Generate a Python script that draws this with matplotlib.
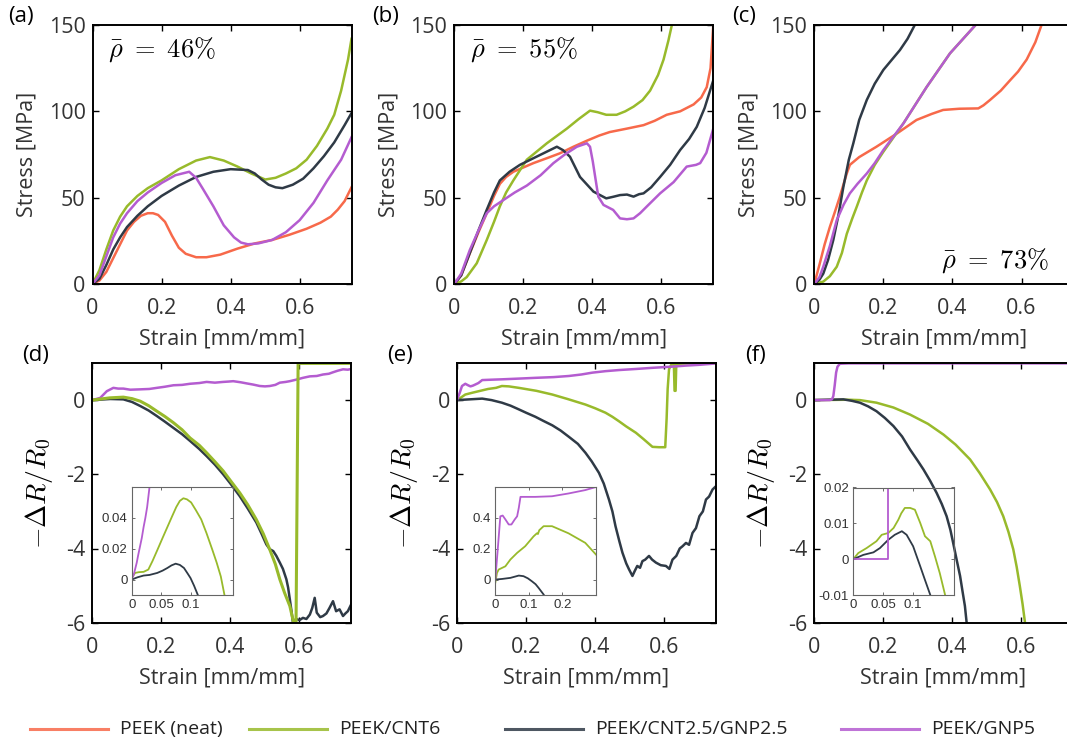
import matplotlib
matplotlib.use('Agg')
import matplotlib.pyplot as plt
from matplotlib.lines import Line2D

plt.rcParams['font.family'] = ['Open Sans', 'DejaVu Sans']
plt.rcParams['mathtext.fontset'] = 'cm'
plt.rcParams['axes.unicode_minus'] = False

# colours: PEEK (neat), PEEK/CNT6, PEEK/CNT2.5/GNP2.5, PEEK/GNP5
C_NEAT = '#F7694A'
C_CNT = '#98BA2B'
C_HYB = '#2F3A46'
C_GNP = '#B45CD0'

labels = ['PEEK (neat)', 'PEEK/CNT6', 'PEEK/CNT2.5/GNP2.5', 'PEEK/GNP5']
densities = ['46%', '55%', '73%']

# ---------------- stress-strain, rho = 46% (a)
a_neat_x = [0, 0.02, 0.04, 0.06, 0.08, 0.10, 0.12, 0.14, 0.16, 0.175, 0.19, 0.21, 0.23, 0.25, 0.27, 0.30, 0.33, 0.37, 0.42, 0.47, 0.52, 0.57, 0.62, 0.66, 0.69, 0.71, 0.73, 0.75]
a_neat_y = [0, 2, 7, 15, 23, 31, 36, 39.5, 41, 41, 40, 36, 28, 21, 17.5, 15.5, 15.5, 17, 20.5, 23.5, 25.5, 28.5, 32, 35.5, 39, 43, 48, 56]
a_cnt_x = [0, 0.02, 0.04, 0.06, 0.08, 0.10, 0.13, 0.16, 0.20, 0.25, 0.30, 0.34, 0.38, 0.42, 0.46, 0.50, 0.53, 0.56, 0.59, 0.62, 0.65, 0.68, 0.70, 0.72, 0.74, 0.75]
a_cnt_y = [0, 8, 20, 31, 39, 45, 51, 55.5, 60, 66.5, 71.5, 73.5, 71.5, 68, 64, 60.5, 61.5, 64, 67, 72, 80, 90, 98, 112, 130, 142]
a_hyb_x = [0, 0.02, 0.04, 0.06, 0.08, 0.10, 0.13, 0.16, 0.20, 0.25, 0.30, 0.35, 0.40, 0.45, 0.47, 0.49, 0.51, 0.53, 0.55, 0.58, 0.61, 0.64, 0.67, 0.70, 0.73, 0.75]
a_hyb_y = [0, 3, 11, 20, 27, 33, 39.5, 45, 51, 57, 62, 65, 66.5, 66, 64, 60.5, 57.5, 56, 55.5, 57.5, 61, 67, 74, 82, 92, 99]
a_gnp_x = [0, 0.02, 0.04, 0.06, 0.08, 0.10, 0.13, 0.16, 0.20, 0.24, 0.28, 0.30, 0.32, 0.35, 0.38, 0.41, 0.43, 0.45, 0.48, 0.52, 0.56, 0.60, 0.64, 0.68, 0.72, 0.75]
a_gnp_y = [0, 5, 16, 27, 35, 41, 48, 53, 58.5, 63, 65, 61.5, 55, 45, 34, 27, 24, 23, 23.5, 25.5, 30, 37, 47, 60, 72, 85]

# ---------------- stress-strain, rho = 55% (b)
b_neat_x = [0, 0.02, 0.045, 0.07, 0.094, 0.115, 0.132, 0.15, 0.171, 0.20, 0.229, 0.27, 0.306, 0.345, 0.384, 0.42, 0.45, 0.50, 0.548, 0.58, 0.615, 0.654, 0.693, 0.715, 0.731, 0.742, 0.75]
b_neat_y = [0, 5, 17.8, 30, 41, 51, 58, 62, 65, 67.5, 70, 73, 75.7, 79.5, 83, 86, 88, 90, 92, 94.5, 98, 100, 104, 108, 114, 125, 150]
b_cnt_x = [0, 0.02, 0.036, 0.065, 0.094, 0.115, 0.132, 0.15, 0.171, 0.21, 0.268, 0.326, 0.36, 0.393, 0.415, 0.44, 0.47, 0.495, 0.519, 0.545, 0.567, 0.59, 0.606, 0.62, 0.63]
b_cnt_y = [0, 1.5, 4, 12, 25.5, 36, 45, 53, 60, 72, 81.5, 90, 95.5, 100.4, 99.5, 98, 98, 100, 102.7, 106.5, 112, 121, 130, 141, 150]
b_hyb_x = [0, 0.02, 0.045, 0.07, 0.094, 0.115, 0.132, 0.16, 0.19, 0.248, 0.297, 0.315, 0.335, 0.364, 0.403, 0.44, 0.46, 0.48, 0.50, 0.519, 0.535, 0.548, 0.57, 0.596, 0.625, 0.654, 0.68, 0.702, 0.725, 0.75]
b_hyb_y = [0, 5, 18, 31, 43, 53, 60, 65, 69, 74.7, 79.5, 77.5, 73.7, 62, 53.5, 49.6, 50.5, 51.5, 51.8, 50.6, 52, 52.5, 56, 62, 69, 77.6, 84, 91, 102, 118]
b_gnp_x = [0, 0.02, 0.045, 0.07, 0.094, 0.115, 0.142, 0.175, 0.21, 0.25, 0.287, 0.32, 0.355, 0.384, 0.393, 0.401, 0.408, 0.417, 0.432, 0.46, 0.48, 0.50, 0.519, 0.538, 0.557, 0.596, 0.635, 0.673, 0.70, 0.712, 0.73, 0.75]
b_gnp_y = [0, 6, 19.7, 31, 41, 45, 48.6, 53, 57, 63, 70, 75, 79.5, 81.5, 79.5, 71, 62, 50.6, 45.8, 42.9, 38, 37.5, 38, 41, 44.8, 52.5, 59, 68, 69, 70, 76, 90]

# ---------------- stress-strain, rho = 73% (c)
c_neat_x = [0, 0.016, 0.03, 0.045, 0.06, 0.074, 0.085, 0.094, 0.103, 0.13, 0.18, 0.238, 0.296, 0.34, 0.373, 0.42, 0.475, 0.49, 0.509, 0.54, 0.567, 0.59, 0.615, 0.64, 0.658]
c_neat_y = [0, 12, 23, 33, 42, 50.6, 58, 64, 69, 73.5, 79.5, 87, 95, 98.5, 100.8, 101.5, 101.7, 103.5, 106.6, 112, 118, 123, 130, 140, 150]
c_cnt_x = [0, 0.026, 0.045, 0.065, 0.08, 0.094, 0.11, 0.123, 0.138, 0.152, 0.175, 0.2, 0.258, 0.325, 0.393, 0.467]
c_cnt_y = [0, 1.4, 4.5, 10, 18, 29, 38, 44.8, 53, 60, 69, 76.6, 93, 114, 133.6, 150]
c_hyb_x = [0, 0.015, 0.026, 0.04, 0.055, 0.07, 0.084, 0.1, 0.113, 0.13, 0.152, 0.175, 0.2, 0.225, 0.248, 0.27, 0.291]
c_hyb_y = [0, 2.5, 6, 14, 25.5, 40, 56, 72, 81.5, 95, 106.6, 116, 124, 130, 135.5, 142, 150]
c_gnp_x = [0, 0.015, 0.026, 0.045, 0.065, 0.085, 0.103, 0.125, 0.152, 0.175, 0.2, 0.258, 0.325, 0.393, 0.467]
c_gnp_y = [0, 4, 10, 22, 37, 46, 52.5, 58, 64, 70, 77.6, 93, 114, 133.6, 150]

# ---------------- piezoresistance, rho = 46% (d)
d_cnt_x = [0, 0.05, 0.09, 0.115, 0.139, 0.163, 0.187, 0.21, 0.235, 0.26, 0.283, 0.31, 0.331, 0.355, 0.379, 0.40, 0.427, 0.45, 0.475, 0.495, 0.514, 0.53, 0.543, 0.557, 0.572, 0.583, 0.59, 0.596, 0.62, 0.66, 0.70, 0.75]
d_cnt_y = [0, 0.06, 0.08, 0.04, -0.03, -0.15, -0.3, -0.44, -0.61, -0.8, -1.02, -1.22, -1.42, -1.66, -1.91, -2.17, -2.5, -2.82, -3.22, -3.6, -4.03, -4.42, -4.83, -5.2, -5.55, -6.0, -6.0, 0.99, 0.99, 0.99, 0.99, 0.99]
d_hyb_x = [0, 0.052, 0.09, 0.115, 0.139, 0.163, 0.187, 0.21, 0.235, 0.26, 0.283, 0.31, 0.331, 0.355, 0.379, 0.40, 0.427, 0.45, 0.475, 0.49, 0.504, 0.514, 0.524, 0.533, 0.543, 0.552, 0.562, 0.567, 0.572, 0.577, 0.581, 0.59, 0.60, 0.61, 0.62, 0.63, 0.637, 0.644, 0.65, 0.66, 0.668, 0.678, 0.687, 0.697, 0.706, 0.716, 0.726, 0.733, 0.74, 0.75]
d_hyb_y = [0, 0.03, 0.02, -0.05, -0.16, -0.28, -0.43, -0.58, -0.75, -0.92, -1.1, -1.32, -1.51, -1.74, -2.0, -2.25, -2.59, -2.92, -3.3, -3.6, -3.89, -4.02, -4.07, -4.2, -4.38, -4.55, -4.83, -5.05, -5.37, -5.7, -6.0, -5.9, -5.93, -5.87, -5.9, -5.78, -5.6, -5.33, -5.73, -5.85, -5.82, -5.75, -5.6, -5.42, -5.69, -5.64, -5.82, -5.75, -5.69, -5.5]
d_gnp_x = [0, 0.023, 0.042, 0.061, 0.075, 0.09, 0.11, 0.139, 0.165, 0.187, 0.21, 0.235, 0.26, 0.283, 0.31, 0.331, 0.355, 0.379, 0.395, 0.408, 0.43, 0.447, 0.465, 0.485, 0.50, 0.514, 0.53, 0.543, 0.56, 0.572, 0.59, 0.61, 0.63, 0.65, 0.668, 0.685, 0.697, 0.71, 0.726, 0.74, 0.75]
d_gnp_y = [0, 0.06, 0.24, 0.33, 0.31, 0.31, 0.28, 0.29, 0.3, 0.33, 0.36, 0.4, 0.41, 0.44, 0.46, 0.49, 0.47, 0.49, 0.5, 0.51, 0.48, 0.45, 0.42, 0.38, 0.37, 0.38, 0.41, 0.47, 0.49, 0.51, 0.55, 0.6, 0.64, 0.65, 0.69, 0.71, 0.75, 0.79, 0.83, 0.82, 0.84]

# ---------------- piezoresistance, rho = 55% (e)
e_cnt_x = [0, 0.01, 0.024, 0.045, 0.063, 0.09, 0.113, 0.13, 0.15, 0.179, 0.23, 0.276, 0.32, 0.372, 0.40, 0.43, 0.45, 0.469, 0.49, 0.518, 0.54, 0.566, 0.585, 0.603, 0.607, 0.61, 0.614, 0.62, 0.624, 0.628, 0.630, 0.633, 0.635, 0.638, 0.645, 0.68, 0.72, 0.75]
e_cnt_y = [0, 0.06, 0.15, 0.2, 0.24, 0.3, 0.33, 0.38, 0.37, 0.33, 0.25, 0.15, 0.03, -0.12, -0.22, -0.34, -0.45, -0.57, -0.71, -0.88, -1.05, -1.26, -1.27, -1.27, -0.5, 0.3, 0.83, 0.95, 0.97, 0.97, 0.25, 0.25, 0.97, 0.98, 0.98, 0.99, 0.99, 0.99]
e_hyb_x = [0, 0.073, 0.10, 0.13, 0.155, 0.179, 0.2, 0.227, 0.25, 0.276, 0.30, 0.324, 0.35, 0.372, 0.39, 0.411, 0.425, 0.44, 0.45, 0.459, 0.47, 0.479, 0.49, 0.498, 0.508, 0.515, 0.522, 0.53, 0.537, 0.545, 0.556, 0.565, 0.576, 0.59, 0.605, 0.615, 0.624, 0.635, 0.645, 0.653, 0.663, 0.672, 0.682, 0.692, 0.702, 0.712, 0.721, 0.73, 0.74, 0.75]
e_hyb_y = [0, 0.04, 0.0, -0.07, -0.15, -0.25, -0.34, -0.45, -0.56, -0.68, -0.82, -0.99, -1.18, -1.42, -1.65, -1.96, -2.25, -2.68, -3.0, -3.4, -3.8, -4.11, -4.4, -4.56, -4.74, -4.6, -4.47, -4.52, -4.34, -4.3, -4.2, -4.3, -4.38, -4.45, -4.47, -4.55, -4.3, -4.2, -4.0, -3.94, -3.85, -3.9, -3.58, -3.45, -3.13, -3.0, -2.68, -2.6, -2.41, -2.32]
e_gnp_x = [0, 0.008, 0.0145, 0.024, 0.032, 0.039, 0.046, 0.053, 0.062, 0.073, 0.10, 0.13, 0.18, 0.227, 0.28, 0.324, 0.36, 0.392, 0.43, 0.469, 0.52, 0.566, 0.62, 0.663, 0.70, 0.74, 0.75]
e_gnp_y = [0, 0.2, 0.38, 0.44, 0.4, 0.37, 0.39, 0.42, 0.46, 0.54, 0.55, 0.56, 0.58, 0.6, 0.62, 0.65, 0.69, 0.74, 0.78, 0.81, 0.84, 0.87, 0.9, 0.93, 0.95, 0.98, 0.99]

# ---------------- piezoresistance, rho = 73% (f)
f_cnt_x = [0, 0.1, 0.133, 0.181, 0.23, 0.278, 0.33, 0.375, 0.41, 0.452, 0.48, 0.51, 0.53, 0.548, 0.563, 0.577, 0.587, 0.596, 0.604, 0.611]
f_cnt_y = [0, 0.01, 0, -0.07, -0.2, -0.39, -0.64, -0.93, -1.2, -1.6, -1.97, -2.41, -2.75, -3.13, -3.55, -4.02, -4.5, -5.01, -5.5, -6.0]
f_hyb_x = [0, 0.085, 0.11, 0.133, 0.157, 0.181, 0.205, 0.23, 0.255, 0.278, 0.30, 0.317, 0.336, 0.355, 0.37, 0.384, 0.395, 0.403, 0.413, 0.423, 0.43, 0.437, 0.442]
f_hyb_y = [0, 0.02, -0.02, -0.07, -0.17, -0.3, -0.48, -0.7, -0.98, -1.33, -1.63, -1.87, -2.17, -2.5, -2.8, -3.13, -3.5, -3.85, -4.3, -4.74, -5.15, -5.55, -6.0]
f_gnp_x = [0, 0.046, 0.052, 0.056, 0.06, 0.064, 0.068, 0.075, 0.1, 0.2, 0.4, 0.6, 0.75]
f_gnp_y = [0, 0, 0.02, 0.11, 0.4, 0.74, 0.9, 0.98, 0.99, 0.99, 0.99, 0.99, 0.99]

# ---------------- insets (small strain zoom)
di_cnt_x = [0, 0.0057, 0.012, 0.02, 0.028, 0.035, 0.043, 0.052, 0.06, 0.068, 0.075, 0.081, 0.087, 0.093, 0.1, 0.108, 0.117, 0.126, 0.136, 0.143, 0.15, 0.156]
di_cnt_y = [0.001, 0.0043, 0.0048, 0.005, 0.0065, 0.012, 0.019, 0.027, 0.034, 0.041, 0.047, 0.051, 0.0527, 0.052, 0.05, 0.045, 0.039, 0.03, 0.019, 0.011, 0.002, -0.0097]
di_hyb_x = [0, 0.01, 0.02, 0.03, 0.043, 0.052, 0.06, 0.067, 0.074, 0.081, 0.088, 0.094, 0.099, 0.105, 0.111]
di_hyb_y = [0, 0.0015, 0.0026, 0.003, 0.0043, 0.0058, 0.0075, 0.0092, 0.0103, 0.0095, 0.0075, 0.004, 0.001, -0.004, -0.0097]
di_gnp_x = [0, 0.004, 0.0085, 0.011, 0.014, 0.017, 0.02, 0.023, 0.026, 0.03]
di_gnp_y = [0, 0.004, 0.011, 0.016, 0.0215, 0.027, 0.034, 0.04, 0.047, 0.06]

ei_cnt_x = [0, 0.005, 0.01, 0.03, 0.045, 0.065, 0.089, 0.114, 0.124, 0.127, 0.131, 0.144, 0.169, 0.218, 0.268, 0.3]
ei_cnt_y = [-0.02, 0.043, 0.065, 0.086, 0.13, 0.173, 0.216, 0.28, 0.30, 0.295, 0.32, 0.346, 0.346, 0.30, 0.238, 0.162]
ei_hyb_x = [0, 0.02, 0.045, 0.07, 0.084, 0.097, 0.109, 0.12, 0.129, 0.144]
ei_hyb_y = [0, 0.004, 0.011, 0.026, 0.022, 0.008, -0.011, -0.03, -0.054, -0.097]
ei_gnp_x = [0, 0.008, 0.015, 0.022, 0.03, 0.04, 0.048, 0.058, 0.065, 0.07, 0.075, 0.119, 0.169, 0.218, 0.268, 0.3]
ei_gnp_y = [0, 0.216, 0.41, 0.415, 0.39, 0.357, 0.357, 0.39, 0.41, 0.465, 0.536, 0.536, 0.54, 0.558, 0.58, 0.6]

fi_cnt_x = [0, 0.0084, 0.0225, 0.039, 0.048, 0.059, 0.068, 0.076, 0.081, 0.087, 0.096, 0.104, 0.113, 0.121, 0.13, 0.138, 0.146, 0.155]
fi_cnt_y = [0, 0.0017, 0.0031, 0.005, 0.0068, 0.0073, 0.0087, 0.011, 0.0128, 0.0143, 0.0143, 0.0138, 0.0101, 0.0064, 0.005, 0.0007, -0.0039, -0.01]
fi_hyb_x = [0, 0.017, 0.034, 0.045, 0.059, 0.07, 0.082, 0.09, 0.101, 0.113, 0.121, 0.13]
fi_hyb_y = [0, 0.0012, 0.0019, 0.0031, 0.0054, 0.0068, 0.0078, 0.0068, 0.0036, -0.002, -0.0058, -0.01]
fi_gnp_x = [0, 0.059, 0.059]
fi_gnp_y = [0, 0, 0.025]

W, H = 1067, 738
TXT = '#333333'


def px_axes(fig, l, t, r, b, **kw):
    # add axes from pixel box (left, top, right, bottom)
    return fig.add_axes([l / W, (H - b) / H, (r - l) / W, (b - t) / H], **kw)


def style_main(ax, ylim, yticks):
    ax.set_xlim(0, 0.75)
    ax.set_ylim(*ylim)
    ax.set_xticks([0, 0.2, 0.4, 0.6])
    ax.set_xticklabels(['0', '0.2', '0.4', '0.6'])
    ax.set_yticks(yticks)
    ax.set_yticklabels([('%g' % v) for v in yticks])
    ax.tick_params(direction='in', top=True, right=True, length=4, width=1.0,
                   labelsize=15.5, labelcolor=TXT)
    ax.tick_params(axis='x', pad=10)
    ax.tick_params(axis='y', pad=5)
    for s in ax.spines.values():
        s.set_linewidth(1.4)
        s.set_color('black')
    ax.set_xlabel('Strain [mm/mm]', fontsize=15.5, color=TXT, labelpad=7)


def style_inset(ax, xlim, ylim, xticks, yticks):
    ax.set_xlim(*xlim)
    ax.set_ylim(*ylim)
    ax.set_xticks(xticks)
    ax.set_xticklabels([('%g' % v) for v in xticks])
    ax.set_yticks(yticks)
    ax.set_yticklabels([('%g' % v) for v in yticks])
    ax.tick_params(direction='in', top=True, right=True, length=2.5, width=0.6,
                   labelsize=9.5, labelcolor=TXT, color='#555555', pad=3)
    for t in ax.get_xticklabels() + ax.get_yticklabels():
        t.set_family('Liberation Sans')
    for s in ax.spines.values():
        s.set_linewidth(0.8)
        s.set_color('#666666')
    ax.patch.set_alpha(0)


fig = plt.figure(figsize=(W / 100, H / 100), dpi=100)

LW = 1.8
top_data = [
    (a_neat_x, a_neat_y, a_cnt_x, a_cnt_y, a_hyb_x, a_hyb_y, a_gnp_x, a_gnp_y),
    (b_neat_x, b_neat_y, b_cnt_x, b_cnt_y, b_hyb_x, b_hyb_y, b_gnp_x, b_gnp_y),
    (c_neat_x, c_neat_y, c_cnt_x, c_cnt_y, c_hyb_x, c_hyb_y, c_gnp_x, c_gnp_y),
]
top_lefts = [92.5, 454.3, 814.3]
top_tags = ['(a)', '(b)', '(c)']
tag_x_top = [8, 372, 732]
for i in range(3):
    l = top_lefts[i]
    ax = px_axes(fig, l, 25, l + 259, 284)
    nx, ny, cx, cy, hx, hy, gx, gy = top_data[i]
    ax.plot(nx, ny, color=C_NEAT, lw=LW)
    ax.plot(cx, cy, color=C_CNT, lw=LW)
    ax.plot(hx, hy, color=C_HYB, lw=LW)
    ax.plot(gx, gy, color=C_GNP, lw=LW)
    style_main(ax, (0, 150), [0, 50, 100, 150])
    ax.set_ylabel('Stress [MPa]', fontsize=15.5, color=TXT, labelpad=8)
    txt = r'$\bar{\rho}\ =\ %s$' % densities[i].replace('%', r'\%')
    if i < 2:
        ax.text(0.06, 0.96, txt, transform=ax.transAxes, fontsize=19, ha='left', va='top')
    else:
        ax.text(0.49, 0.035, txt, transform=ax.transAxes, fontsize=19, ha='left', va='bottom')
    fig.text(tag_x_top[i] / W, 1 - 6 / H, top_tags[i], fontsize=16, ha='left', va='top')

bot_data = [
    (d_cnt_x, d_cnt_y, d_hyb_x, d_hyb_y, d_gnp_x, d_gnp_y),
    (e_cnt_x, e_cnt_y, e_hyb_x, e_hyb_y, e_gnp_x, e_gnp_y),
    (f_cnt_x, f_cnt_y, f_hyb_x, f_hyb_y, f_gnp_x, f_gnp_y),
]
inset_data = [
    (di_cnt_x, di_cnt_y, di_hyb_x, di_hyb_y, di_gnp_x, di_gnp_y),
    (ei_cnt_x, ei_cnt_y, ei_hyb_x, ei_hyb_y, ei_gnp_x, ei_gnp_y),
    (fi_cnt_x, fi_cnt_y, fi_hyb_x, fi_hyb_y, fi_gnp_x, fi_gnp_y),
]
bot_lefts = [92.3, 457.0, 814.0]
bot_tags = ['(d)', '(e)', '(f)']
tag_x_bot = [22, 387, 745]
inset_boxes = [(131.7, 487, 232.7, 595), (495.3, 487, 596, 595), (853.3, 487.5, 954, 595)]
inset_lims = [
    ((0, 0.17), (-0.01, 0.06), [0, 0.05, 0.1], [0, 0.02, 0.04]),
    ((0, 0.3), (-0.1, 0.6), [0, 0.1, 0.2], [0, 0.2, 0.4]),
    ((0, 0.17), (-0.01, 0.02), [0, 0.05, 0.1], [-0.01, 0, 0.01, 0.02]),
]
for i in range(3):
    l = bot_lefts[i]
    ax = px_axes(fig, l, 363, l + 259, 622.7)
    cx, cy, hx, hy, gx, gy = bot_data[i]
    if i == 0:
        ax.plot(gx, gy, color=C_GNP, lw=LW)
        ax.plot(hx, hy, color=C_HYB, lw=LW)
        ax.plot(cx, cy, color=C_CNT, lw=LW + 0.4)
    else:
        ax.plot(cx, cy, color=C_CNT, lw=LW)
        ax.plot(hx, hy, color=C_HYB, lw=LW)
        ax.plot(gx, gy, color=C_GNP, lw=LW)
    style_main(ax, (-6, 1), [-6, -4, -2, 0])
    ax.set_ylabel(r'$-\Delta R/R_0$', fontsize=20, labelpad=8)
    fig.text(tag_x_bot[i] / W, 1 - 345 / H, bot_tags[i], fontsize=16, ha='left', va='top')

    lb, tb, rb, bb = inset_boxes[i]
    ins = px_axes(fig, lb, tb, rb, bb)
    icx, icy, ihx, ihy, igx, igy = inset_data[i]
    ins.plot(icx, icy, color=C_CNT, lw=1.3)
    ins.plot(ihx, ihy, color=C_HYB, lw=1.3)
    ins.plot(igx, igy, color=C_GNP, lw=1.3)
    xl, yl, xt, yt = inset_lims[i]
    style_inset(ins, xl, yl, xt, yt)

# legend along the bottom, entries placed by hand like the original
leg_colors = [C_NEAT, C_CNT, C_HYB, C_GNP]
leg_line_x = [(30, 108), (249, 327), (505, 583), (841, 919)]
leg_y = (H - 729) / H
for lab, col, (x0, x1) in zip(labels, leg_colors, leg_line_x):
    fig.add_artist(Line2D([x0 / W, x1 / W], [leg_y, leg_y], color=col, lw=2.2, alpha=0.85,
                          transform=fig.transFigure))
    fig.text((x1 + 12) / W, leg_y, lab, fontsize=14, ha='left', va='center', color='#222222')

fig.savefig('out.png', dpi=100)
